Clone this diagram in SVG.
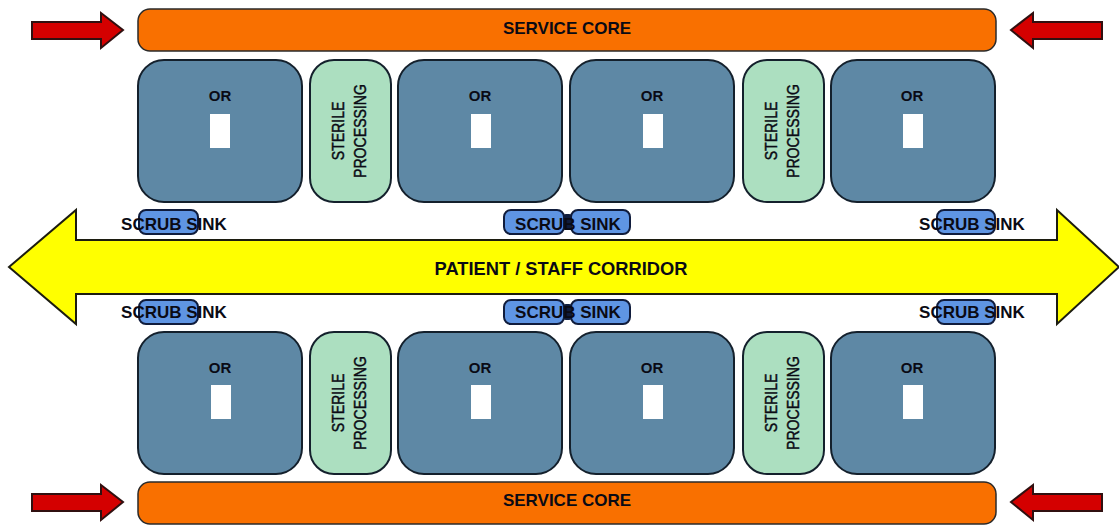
<svg xmlns="http://www.w3.org/2000/svg" width="1119" height="525" viewBox="0 0 1119 525">
<style>
text{font-family:"Liberation Sans",Arial,sans-serif;fill:#0a0a14;text-anchor:middle;font-size:15px;font-weight:bold}
.core rect{fill:#f97000;stroke:#2a2a2a;stroke-width:1.5}
.core text{font-size:17px}
.or>rect:first-child{fill:#5e88a5;stroke:#14202c;stroke-width:2}
.or>rect+rect{fill:#fff}
.sp rect{fill:#acdfc0;stroke:#14202c;stroke-width:2}
.sink rect{fill:#5f95e3;stroke:#101c3c;stroke-width:2}
.sp text{font-size:15px;font-weight:normal;stroke:#0a0a14;stroke-width:.4}
.sink text{font-size:17px}
.arrow{fill:#d40000;stroke:#301010;stroke-width:2}
.corr{fill:#ffff00;stroke:#1c1c10;stroke-width:2}
</style>
<g id="connectors">
<path class="arrow" d="M32 22H101V13L123 30L101 48V39H32Z"/>
<path class="arrow" d="M1102 22H1033V13L1011 30L1033 48V39H1102Z"/>
<path class="arrow" d="M32 494H101V485L123 502L101 520V511H32Z"/>
<path class="arrow" d="M1102 494H1033V485L1011 502L1033 520V511H1102Z"/>
<path class="corr" d="M9 267L76 210V240H1057V210L1119 267L1057 324V294H76V324Z"/>
</g>
<g id="corridor-label"><text x="561" y="275" style="font-size:18.3px">PATIENT / STAFF CORRIDOR</text></g>
<g id="core-top" class="core"><rect x="138" y="9" width="858" height="42" rx="12"/><text x="567" y="34">SERVICE CORE</text></g>
<g id="core-bottom" class="core"><rect x="138" y="482" width="858" height="42" rx="12"/><text x="567" y="506">SERVICE CORE</text></g>

<g id="or-1" class="or" transform="translate(138,60)"><rect width="164" height="142" rx="26"/><rect x="72" y="54" width="20" height="34"/><text x="82" y="41">OR</text></g>
<g id="or-2" class="or" transform="translate(398,60)"><rect width="164" height="142" rx="26"/><rect x="73" y="54" width="20" height="34"/><text x="82" y="41">OR</text></g>
<g id="or-3" class="or" transform="translate(570,60)"><rect width="164" height="142" rx="26"/><rect x="73" y="54" width="20" height="34"/><text x="82" y="41">OR</text></g>
<g id="or-4" class="or" transform="translate(831,60)"><rect width="164" height="142" rx="26"/><rect x="72" y="54" width="20" height="34"/><text x="81" y="41">OR</text></g>
<g id="or-5" class="or" transform="translate(138,332)"><rect width="164" height="142" rx="26"/><rect x="73" y="53" width="20" height="34"/><text x="82" y="41">OR</text></g>
<g id="or-6" class="or" transform="translate(398,332)"><rect width="164" height="142" rx="26"/><rect x="73" y="53" width="20" height="34"/><text x="82" y="41">OR</text></g>
<g id="or-7" class="or" transform="translate(570,332)"><rect width="164" height="142" rx="26"/><rect x="73" y="53" width="20" height="34"/><text x="82" y="41">OR</text></g>
<g id="or-8" class="or" transform="translate(831,332)"><rect width="164" height="142" rx="26"/><rect x="72" y="53" width="20" height="34"/><text x="81" y="41">OR</text></g>

<g id="sterile-1" class="sp"><rect x="310" y="60" width="81" height="142" rx="24"/><text transform="translate(344,131) rotate(-90) scale(.94,1.16)"><tspan x="0" y="0">STERILE</tspan><tspan x="0" dy="19">PROCESSING</tspan></text></g>
<g id="sterile-2" class="sp"><rect x="743" y="60" width="81" height="142" rx="24"/><text transform="translate(777,131) rotate(-90) scale(.94,1.16)"><tspan x="0" y="0">STERILE</tspan><tspan x="0" dy="19">PROCESSING</tspan></text></g>
<g id="sterile-3" class="sp"><rect x="310" y="332" width="81" height="142" rx="24"/><text transform="translate(344,403) rotate(-90) scale(.94,1.16)"><tspan x="0" y="0">STERILE</tspan><tspan x="0" dy="19">PROCESSING</tspan></text></g>
<g id="sterile-4" class="sp"><rect x="743" y="332" width="81" height="142" rx="24"/><text transform="translate(777,403) rotate(-90) scale(.94,1.16)"><tspan x="0" y="0">STERILE</tspan><tspan x="0" dy="19">PROCESSING</tspan></text></g>

<g id="sink-1" class="sink"><rect x="139" y="210" width="59" height="24" rx="7"/><text x="174" y="230">SCRUB SINK</text></g>
<g id="sink-2" class="sink"><rect x="504" y="210" width="60" height="24" rx="7"/><rect x="571" y="210" width="59" height="24" rx="7"/><rect x="564" y="215" width="7" height="14" rx="2" style="fill:#101c3c"/><text x="568" y="230">SCRUB SINK</text></g>
<g id="sink-3" class="sink"><rect x="937" y="210" width="58" height="24" rx="7"/><text x="972" y="230">SCRUB SINK</text></g>
<g id="sink-4" class="sink"><rect x="139" y="300" width="59" height="24" rx="7"/><text x="174" y="318">SCRUB SINK</text></g>
<g id="sink-5" class="sink"><rect x="504" y="300" width="60" height="24" rx="7"/><rect x="571" y="300" width="59" height="24" rx="7"/><rect x="564" y="305" width="7" height="14" rx="2" style="fill:#101c3c"/><text x="568" y="318">SCRUB SINK</text></g>
<g id="sink-6" class="sink"><rect x="937" y="300" width="58" height="24" rx="7"/><text x="972" y="318">SCRUB SINK</text></g>
</svg>
